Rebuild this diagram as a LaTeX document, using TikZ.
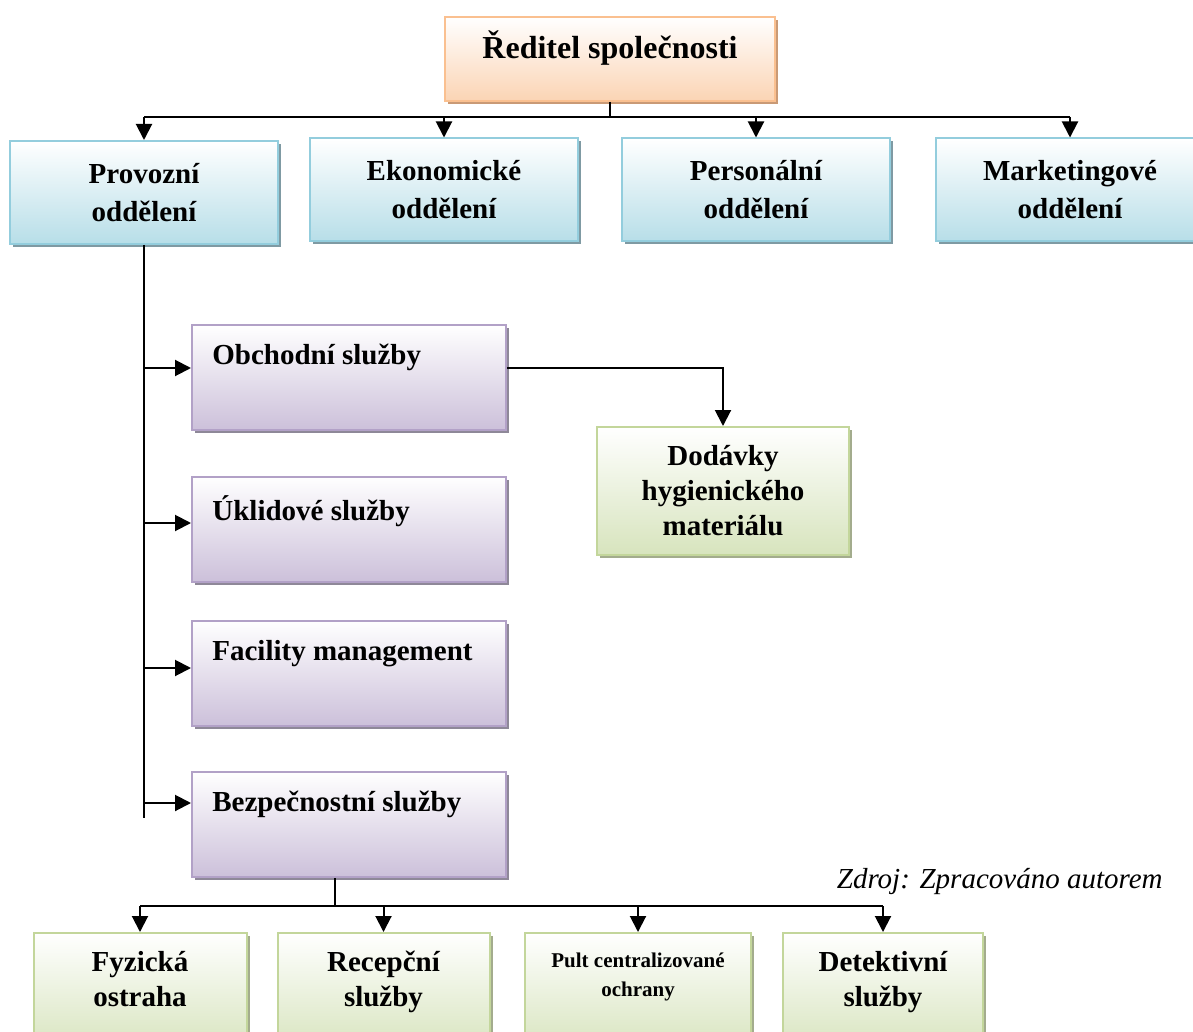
\documentclass[tikz,border=0pt]{standalone}
\usepackage{fontspec}
\setmainfont{Liberation Serif}
\usetikzlibrary{arrows.meta,positioning,calc,shadows}
\definecolor{orBorder}{HTML}{FAC090}
\definecolor{orFill}{HTML}{FBD4B4}
\definecolor{orShadow}{HTML}{C99A76}
\definecolor{blBorder}{HTML}{93CDDD}
\definecolor{blFill}{HTML}{B7DEE8}
\definecolor{blShadow}{HTML}{7F9AA3}
\definecolor{puBorder}{HTML}{B2A1C7}
\definecolor{puFill}{HTML}{CCC0DA}
\definecolor{puShadow}{HTML}{8E8898}
\definecolor{grBorder}{HTML}{C3D69B}
\definecolor{grFill}{HTML}{D7E4BD}
\definecolor{grShadow}{HTML}{A3AC8D}
\begin{document}
\begin{tikzpicture}[x=0.5pt,y=-0.5pt,font=\bfseries\fontsize{14.5}{19}\selectfont,
  box/.style={draw=#1Border,line width=1pt,top color=white,bottom color=#1Fill,
    drop shadow={shadow xshift=1.5pt,shadow yshift=-1.5pt,opacity=1,fill=#1Shadow},
    align=center,inner sep=0pt},
  dept/.style={box=bl,minimum width=134pt,minimum height=51.5pt},
  serv/.style={box=pu,minimum width=157pt,minimum height=52.5pt},
  sub/.style={box=gr,minimum height=60pt},
  ttl/.style={inner sep=0pt,align=center},
  arr/.style={-{Triangle[length=8pt,width=8pt]},line width=1pt}]
  \useasboundingbox (0,0) rectangle (1193,1032);
  \clip (0,0) rectangle (1193,1032);
  \node[box=or,minimum width=165pt,minimum height=42pt,text height=12pt,text depth=12pt,
    font=\bfseries\fontsize{16}{19}\selectfont] (RS) at (610,59) {Ředitel společnosti};
  % oddeleni
  \node[dept] (PO) at (144,192.5) {Provozní\\oddělení};
  \node[dept] (EO) at (444,190) {Ekonomické\\oddělení};
  \node[dept] (PE) at (756,190) {Personální\\oddělení};
  \node[dept] (MO) at (1070,190) {Marketingové\\oddělení};
  \draw[line width=1pt] (RS.south) -- ++(0,15) coordinate (bus);
  \draw[line width=1pt] (bus -| PO.north) -- (bus -| MO.north);
  \foreach \n in {PO,EO,PE,MO}{\draw[arr] (bus -| \n.north) -- (\n.north);}
  % sluzby
  \node[serv,label={[ttl,anchor=north west,xshift=10.5pt,yshift=-10pt]north west:Obchodní služby}] (OS) at (349,377.5) {};
  \node[serv,label={[ttl,anchor=north west,xshift=10.5pt,yshift=-10pt]north west:Úklidové služby}] (US) at (349,529) {};
  \node[serv,label={[ttl,anchor=north west,xshift=10.5pt,yshift=-10pt]north west:Facility management}] (FM) at (349,673) {};
  \node[serv,label={[ttl,anchor=north west,xshift=10.5pt,yshift=-10pt]north west:Bezpečnostní služby}] (BS) at (349,824.5) {};
  \draw[line width=1pt] (PO.south) -- ++(0,573);
  \foreach \n/\s in {OS/4.75pt,US/3pt,FM/2.5pt,BS/10.75pt}
    \draw[arr] (PO.south |- \n.west) ++(0,\s) -- ([yshift=\s]\n.west);
  \node[box=gr,minimum width=126pt,minimum height=64pt,font=\bfseries\fontsize{14.5}{17.5}\selectfont]
    (DH) at (723,491) {Dodávky\\hygienického\\materiálu};
  \draw[arr] ([yshift=4.75pt]OS.east) -| (DH.north);
  % bezpecnost
  \node[sub,minimum width=106.5pt,label={[ttl,anchor=north,yshift=-9.5pt,font=\bfseries\fontsize{14.5}{17.5}\selectfont]north:Fyzická\\ostraha}] (FO) at (140,993) {};
  \node[sub,minimum width=106pt,label={[ttl,anchor=north,yshift=-9.5pt,font=\bfseries\fontsize{14.5}{17.5}\selectfont]north:Recepční\\služby}] (RC) at (383.5,993) {};
  \node[sub,minimum width=113pt,label={[ttl,anchor=north,yshift=-10pt,font=\bfseries\fontsize{10.5}{14.5}\selectfont]north:Pult centralizované\\ochrany}] (PC) at (638,993) {};
  \node[sub,minimum width=100pt,label={[ttl,anchor=north,yshift=-9.5pt,font=\bfseries\fontsize{14.5}{17.5}\selectfont]north:Detektivní\\služby}] (DS) at (883,993) {};
  \draw[line width=1pt] ([xshift=-7pt]BS.south) -- ++(0,28) coordinate (bus2);
  \draw[line width=1pt] (bus2 -| FO.north) -- (bus2 -| DS.north);
  \foreach \n in {FO,RC,PC,DS}{\draw[arr] (bus2 -| \n.north) -- (\n.north);}
  \node[anchor=base east,inner sep=0pt,font=\mdseries\itshape\fontsize{14.5}{17}\selectfont] (src) at (1163,888) {Zdroj: Zpracováno autorem};
\end{tikzpicture}
\end{document}
